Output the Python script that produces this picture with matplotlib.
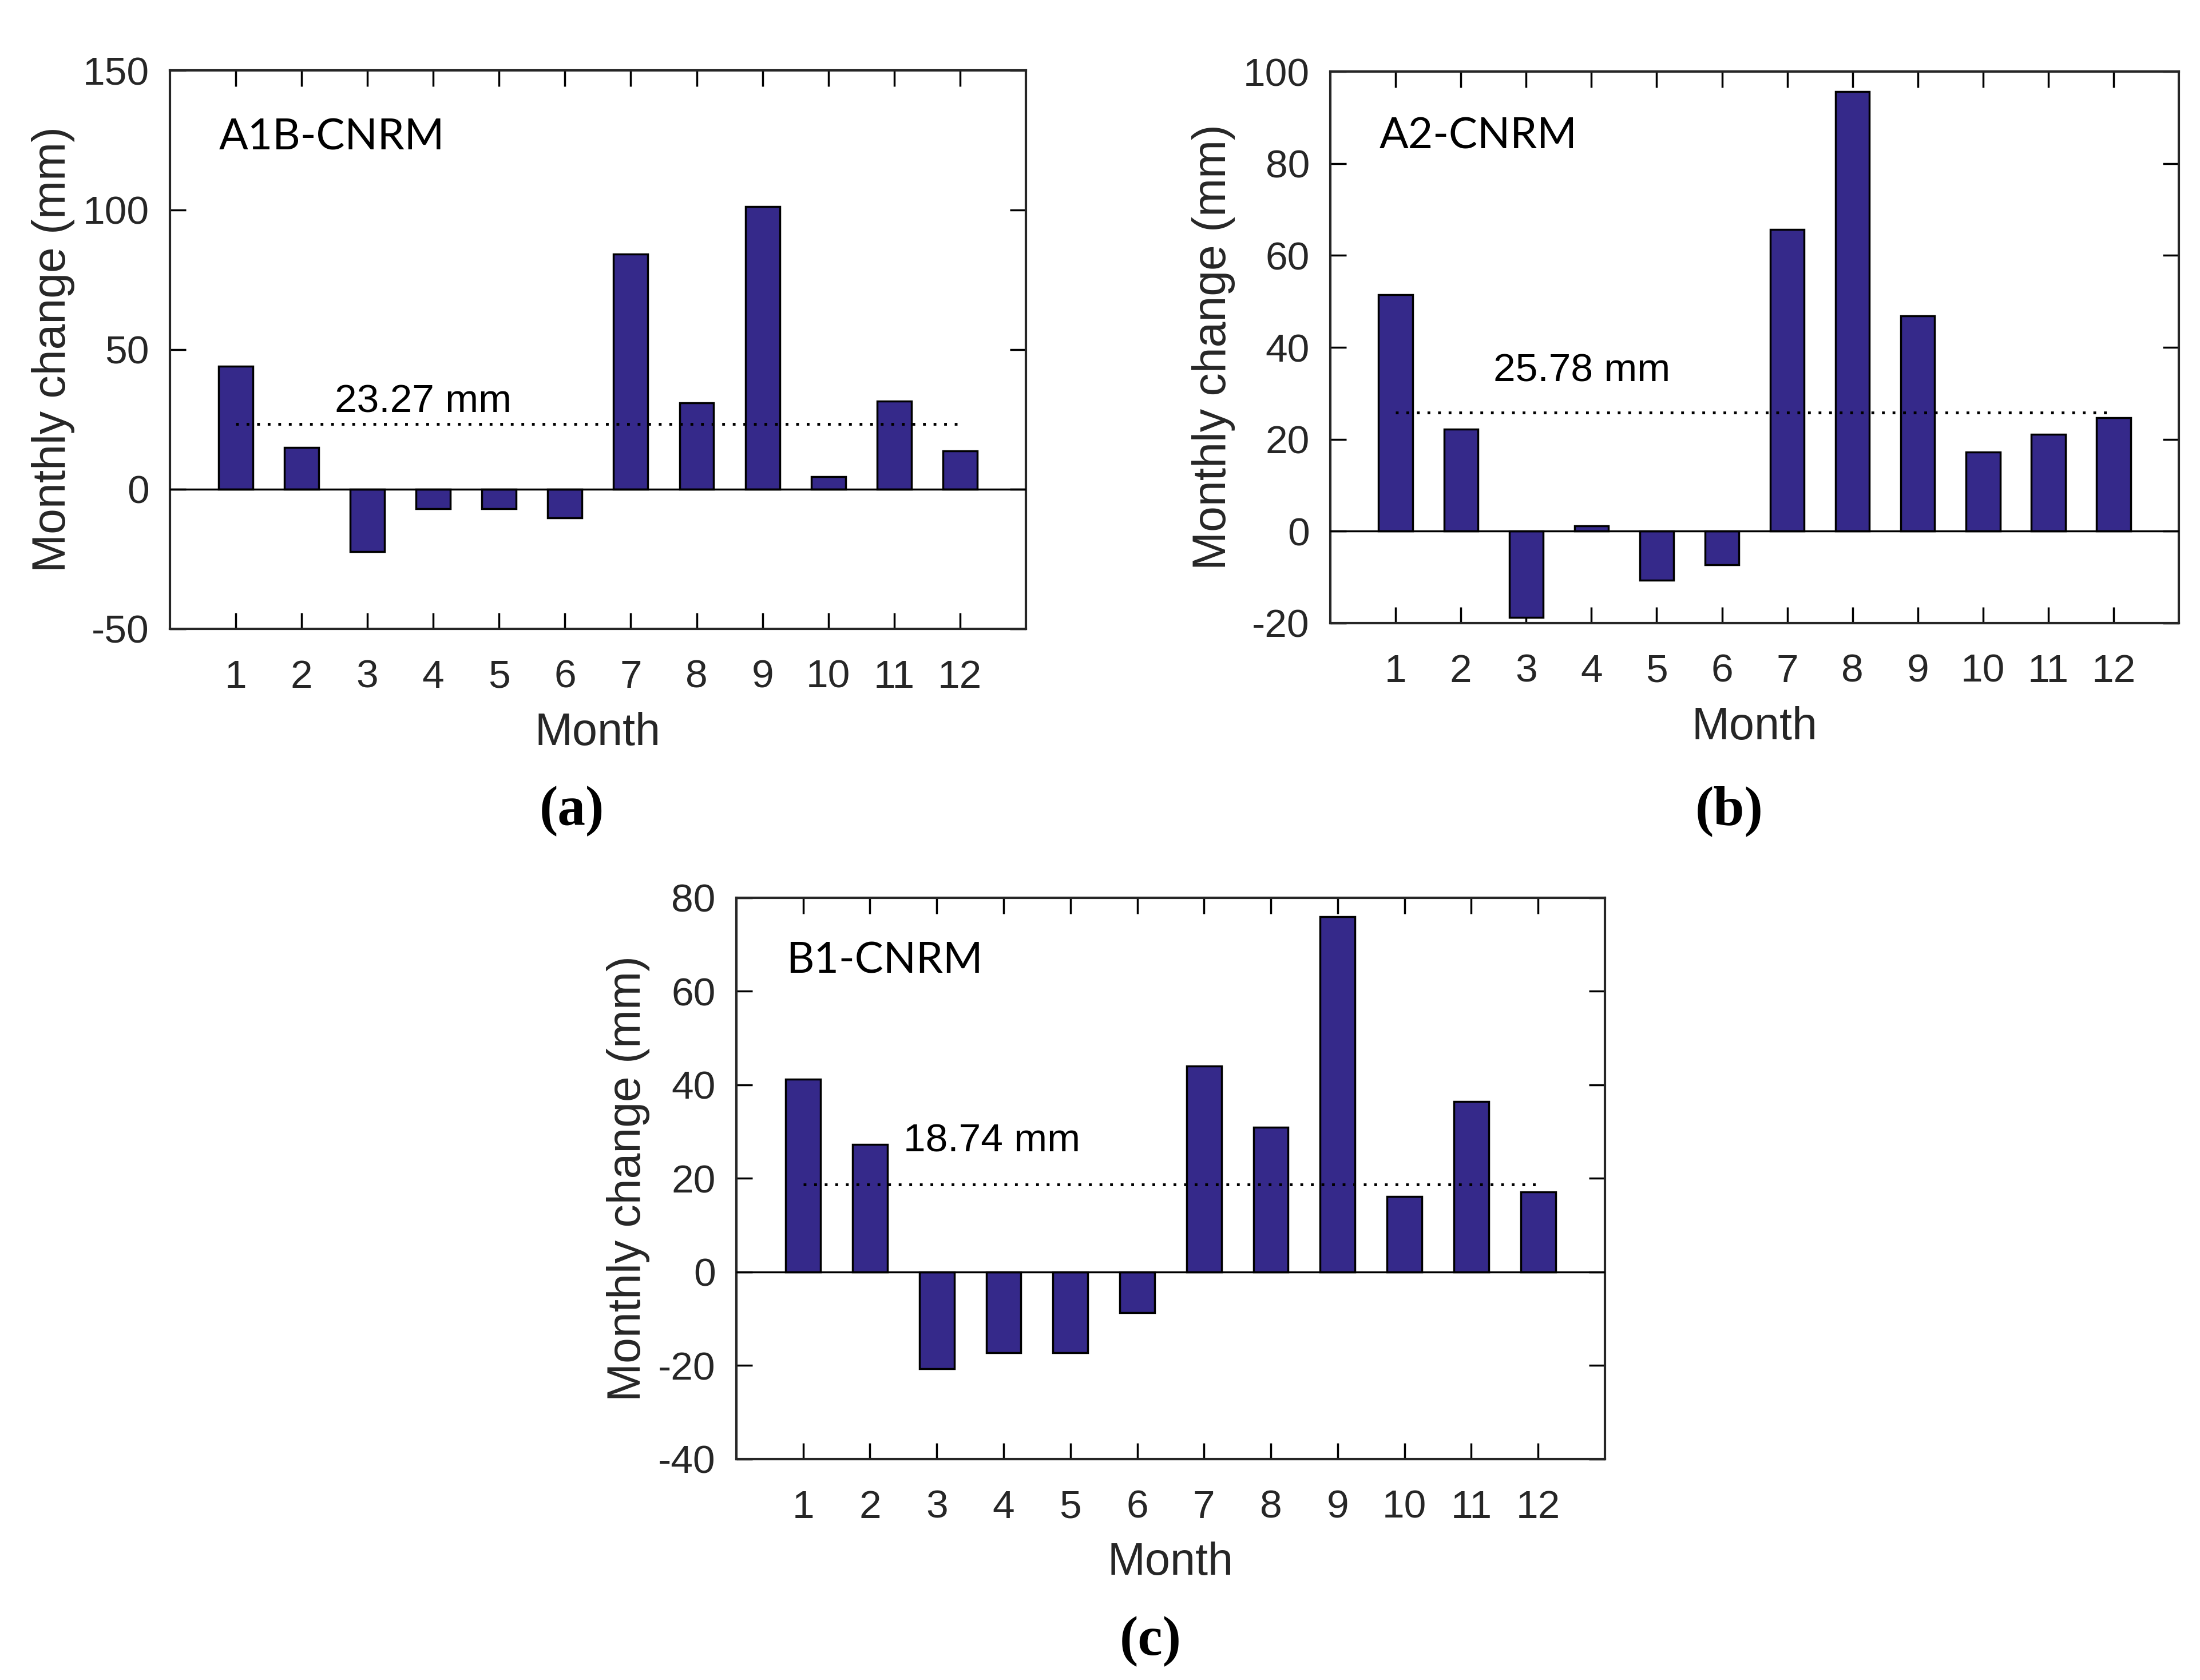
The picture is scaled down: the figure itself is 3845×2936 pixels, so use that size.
import matplotlib
matplotlib.use('Agg')
import matplotlib.pyplot as plt

months = list(range(1, 13))

a1b = [44.0, 15.0, -22.3, -6.9, -7.0, -10.3, 84.3, 30.9, 101.2, 4.5, 31.5, 13.7]
a2 = [51.5, 22.2, -18.7, 1.2, -10.7, -7.3, 65.6, 95.6, 46.8, 17.2, 21.1, 24.7]
b1 = [41.2, 27.3, -20.7, -17.3, -17.3, -8.7, 44.0, 30.9, 76.0, 16.1, 36.4, 17.1]

means = [23.27, 25.78, 18.74]
names = ['A1B-CNRM', 'A2-CNRM', 'B1-CNRM']
letters = ['a', 'b', 'c']

ylims = [(-50, 150), (-20, 100), (-40, 80)]
ysteps = [50, 20, 20]
# name text y and mean-label y, in data units
name_y = [126, 86, 66.5]
mean_y = [31.2, 34.8, 28.0]

bar_color = '#35298A'
txt_color = '#262626'

plt.rcParams['font.family'] = ['Liberation Sans', 'DejaVu Sans']
plt.rcParams['axes.unicode_minus'] = False

fig = plt.figure(figsize=(38.45, 29.36), dpi=100)

axes_pos = [
    [0.0772, 0.6257, 0.3891, 0.3324],
    [0.6047, 0.6291, 0.3857, 0.3283],
    [0.3347, 0.1315, 0.3948, 0.3341],
]
letter_pos = [(0.260, 0.517), (0.786, 0.517), (0.523, 0.023)]

for i, vals in enumerate([a1b, a2, b1]):
    ax = fig.add_axes(axes_pos[i])
    ax.bar(months, vals, width=0.52, color=bar_color, edgecolor='black',
           linewidth=2.5, zorder=2)
    ax.axhline(0, color='black', linewidth=2.5, zorder=3)
    ax.plot([1, 12], [means[i], means[i]], linestyle=(0, (1, 2.8)),
            color='black', linewidth=3.5, zorder=4)

    lo, hi = ylims[i]
    ax.set_xlim(0, 13)
    ax.set_ylim(lo, hi)
    ax.set_xticks(months)
    ax.set_yticks(range(lo, hi + 1, ysteps[i]))
    ax.tick_params(direction='in', length=20, width=2.5, top=True, right=True,
                   labelsize=50, labelcolor=txt_color, pad=38)
    ax.tick_params(axis='y', pad=26)
    for s in ax.spines.values():
        s.set_linewidth(3)
        s.set_color('#262626')

    ax.set_xlabel('Month', fontsize=57, color=txt_color, labelpad=20)
    ax.set_ylabel('Monthly change (mm)', fontsize=58, color=txt_color, labelpad=10)

    ax.text(0.75, name_y[i], names[i], fontsize=54, family=['Lato', 'DejaVu Sans'],
            ha='left', va='center', color='black')
    ax.text(2.5, mean_y[i], f'{means[i]:.2f} mm', fontsize=50,
            ha='left', va='center', color='black')

    fig.text(letter_pos[i][0], letter_pos[i][1], '(' + letters[i] + ')',
             fontsize=70, fontweight='bold', family=['Liberation Serif', 'DejaVu Serif'],
             ha='center', va='center')

fig.savefig('out.png', dpi=100, facecolor='white')
